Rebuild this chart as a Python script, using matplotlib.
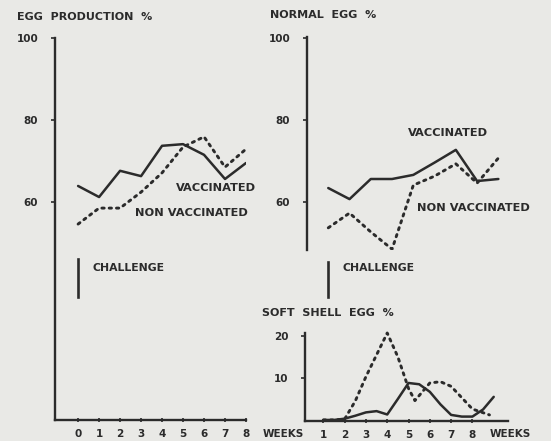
import matplotlib
matplotlib.use("Agg")
import matplotlib.pyplot as plt

# ---- data ----
weeks = [0, 1, 2, 3, 4, 5, 6, 7, 8]
egg_prod_vacc = [63.9, 61.2, 67.6, 66.3, 73.7, 74.1, 71.5, 65.6, 69.5]
egg_prod_nonvacc = [54.6, 58.5, 58.5, 62.4, 67.1, 73.4, 75.9, 68.5, 72.9]

normal_vacc = [63.4, 60.7, 65.6, 65.6, 66.6, 69.6, 72.7, 65.1, 65.6]
normal_nonvacc = [53.7, 57.3, 52.7, 48.5, 64.1, 66.3, 69.3, 64.6, 70.7]

soft_weeks_vacc = [1, 1.5, 2, 2.5, 3, 3.5, 4, 4.5, 5, 5.5, 6, 6.5, 7, 7.5, 8, 8.5, 9]
soft_vacc = [0, 0, 0.3, 1.0, 1.8, 2.1, 1.3, 5.0, 8.8, 8.5, 6.7, 3.7, 1.2, 0.8, 0.8, 2.5, 5.5]
soft_weeks_nonvacc = [1, 1.5, 2, 2.5, 3, 3.5, 4, 4.5, 5, 5.3, 6, 6.5, 7, 7.5, 8, 8.8]
soft_nonvacc = [0, 0, 0.2, 4.5, 10.3, 15.5, 20.7, 15.0, 7.5, 4.6, 8.8, 9.1, 8.0, 5.3, 2.6, 1.2]

left_yticks = [60, 80, 100]
right_yticks = [60, 80, 100]
soft_yticks = [10, 20]
left_xticklabels = ["0", "1", "2", "3", "4", "5", "6", "7", "8"]
soft_xticks = [1, 2, 3, 4, 5, 6, 7, 8]

# ---- style ----
BG = "#e9e9e6"
INK = "#2b2b2b"
FONT = "DejaVu Sans"
W, H = 551, 441

fig = plt.figure(figsize=(W / 100, H / 100), dpi=100, facecolor=BG)

def px_axes(x0, y_top, x1, y_bot):
    return fig.add_axes([x0 / W, (H - y_bot) / H, (x1 - x0) / W, (y_bot - y_top) / H])

def px_text(x, y, s, size, ha="left"):
    fig.text(x / W, 1 - y / H, s, fontsize=size, ha=ha, va="center",
             color=INK, fontfamily=FONT, fontweight="bold")

solid_kw = dict(color=INK, lw=1.8, solid_joinstyle="round", solid_capstyle="round")
dot_kw = dict(color=INK, lw=2.1, linestyle=(0, (0.8, 1.7)), dash_capstyle="round")
txt_kw = dict(color=INK, fontfamily=FONT, fontweight="bold")
LBL = 8.2

def style_axes(ax):
    ax.set_facecolor("none")
    for s in ["top", "right"]:
        ax.spines[s].set_visible(False)
    for s in ["left", "bottom"]:
        ax.spines[s].set_color(INK)
        ax.spines[s].set_linewidth(1.7)
    ax.tick_params(colors=INK, labelsize=7.5, width=1.2, length=3)
    ax.tick_params(axis="y", pad=9)
    ax.tick_params(axis="x", pad=5)
    for lab in ax.get_xticklabels() + ax.get_yticklabels():
        lab.set_fontweight("bold")
        lab.set_fontfamily(FONT)

# ---- left panel: egg production ----
ax1 = px_axes(55, 38, 246, 420)
ax1.plot(weeks, egg_prod_vacc, **solid_kw)
ax1.plot(weeks, egg_prod_nonvacc, **dot_kw)
ax1.set_xlim(-1.1, 8.0)
ax1.set_ylim(6.8, 100)
ax1.set_yticks(left_yticks)
ax1.set_yticklabels([str(v) for v in left_yticks])
ax1.set_xticks(weeks)
ax1.set_xticklabels(left_xticklabels)
style_axes(ax1)
ax1.tick_params(axis="x", direction="inout", length=3)
ax1.text(4.67, 63.4, "VACCINATED", fontsize=LBL, va="center", **txt_kw)
ax1.text(2.7, 57.3, "NON VACCINATED", fontsize=LBL, va="center", **txt_kw)
ax1.plot([0, 0], [46.1, 36.8], color=INK, lw=1.9)
ax1.text(0.67, 43.9, "CHALLENGE", fontsize=7.8, va="center", **txt_kw)

# ---- top right panel: normal egg ----
ax2 = px_axes(307, 37, 509, 250)
ax2.plot(weeks, normal_vacc, **solid_kw)
ax2.plot(weeks, normal_nonvacc, **dot_kw)
ax2.set_xlim(-1.0, 8.5)
ax2.set_ylim(48.3, 100.2)
ax2.set_yticks(right_yticks)
ax2.set_yticklabels([str(v) for v in right_yticks])
ax2.set_xticks([])
style_axes(ax2)
ax2.spines["bottom"].set_visible(False)
ax2.text(3.75, 76.8, "VACCINATED", fontsize=LBL, va="center", **txt_kw)
ax2.text(4.18, 58.5, "NON VACCINATED", fontsize=LBL, va="center", **txt_kw)
ax2.plot([0, 0], [45.4, 36.8], color=INK, lw=1.9, clip_on=False)
ax2.text(0.66, 43.9, "CHALLENGE", fontsize=7.8, va="center", clip_on=False, **txt_kw)

# ---- bottom right panel: soft shell egg ----
ax3 = px_axes(305, 333, 508, 421)
ax3.plot(soft_weeks_vacc, soft_vacc, clip_on=False, **solid_kw)
ax3.plot(soft_weeks_nonvacc, soft_nonvacc, clip_on=False, **dot_kw)
ax3.set_xlim(0.14, 9.67)
ax3.set_ylim(-0.25, 20.7)
ax3.set_yticks(soft_yticks)
ax3.set_yticklabels([str(v) for v in soft_yticks])
ax3.set_xticks(soft_xticks)
ax3.set_xticklabels([str(v) for v in soft_xticks])
style_axes(ax3)
ax3.tick_params(axis="x", direction="inout", length=3)

# ---- titles and axis words ----
px_text(17, 17, "EGG  PRODUCTION  %", 8)
px_text(270, 15, "NORMAL  EGG  %", 8)
px_text(262, 313, "SOFT  SHELL  EGG  %", 8)
px_text(283, 434, "WEEKS", 7.5, ha="center")
px_text(510, 434, "WEEKS", 7.5, ha="center")

fig.savefig("out.png", dpi=100, facecolor=BG)
